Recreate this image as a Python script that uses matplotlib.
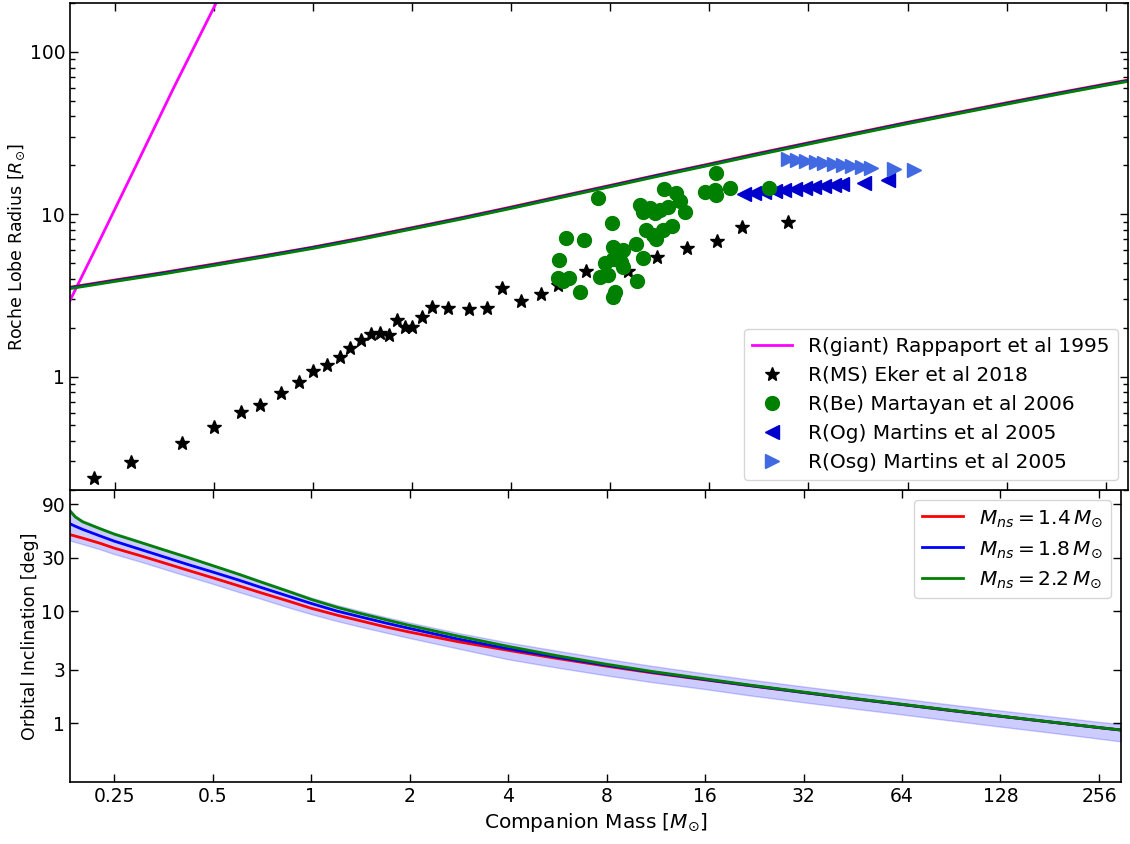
import numpy as np
import matplotlib
matplotlib.use('Agg')
import matplotlib.pyplot as plt
from matplotlib.ticker import FixedLocator, FixedFormatter, NullLocator, LogLocator, NullFormatter

# --- data ---
ms_mass = [0.217, 0.281, 0.401, 0.501, 0.604, 0.692, 0.803, 0.906, 0.999, 1.102, 1.209, 1.297,
           1.398, 1.499, 1.599, 1.706, 1.797, 1.904, 1.995, 2.151, 2.296, 2.58, 2.99, 3.375,
           3.762, 4.301, 4.922, 5.557, 6.739, 9.059, 11.104, 13.677, 16.909, 20.117, 27.69]
ms_radius = [0.237, 0.299, 0.392, 0.492, 0.608, 0.669, 0.79, 0.93, 1.08, 1.18, 1.328, 1.492,
             1.683, 1.828, 1.859, 1.794, 2.22, 2.033, 2.033, 2.343, 2.689, 2.65, 2.605, 2.65,
             3.505, 2.911, 3.246, 3.673, 4.46, 4.449, 5.44, 6.18, 6.84, 8.33, 8.98]

be_mass = [7.339, 11.615, 12.695, 12.993, 9.822, 10.535, 11.297, 11.972, 10.063, 10.912, 13.523,
           8.083, 10.294, 10.786, 11.047, 11.567, 12.348, 5.887, 6.661, 8.16, 8.75, 9.561, 10.063,
           5.586, 7.696, 8.16, 8.644, 8.75, 7.474, 7.899, 5.567, 5.751, 6.013, 9.658, 6.468,
           8.257, 8.16, 16.707, 15.524, 16.591, 16.793, 18.513, 24.241]
be_radius = [12.57, 14.28, 13.49, 12.14, 11.34, 10.87, 10.64, 11.15, 10.39, 10.16, 10.39,
             8.81, 8.01, 7.47, 7.05, 7.94, 8.48, 7.12, 6.92, 6.32, 6.03, 6.51, 5.41,
             5.24, 5.02, 5.31, 5.05, 4.76, 4.13, 4.23, 4.04, 3.85, 4.04, 3.90, 3.32,
             3.34, 3.11, 17.99, 13.61, 14.13, 13.08, 14.48, 14.54]

og_mass = [20.452, 21.94, 23.531, 25.295, 27.019, 29.03, 31.231, 33.335, 35.725, 38.209,
           40.596, 47.276, 55.948]
og_radius = [13.36, 13.55, 13.74, 13.94, 14.13, 14.34, 14.54, 14.75, 14.96, 15.18, 15.39,
             15.61, 16.29]

osg_mass = [27.69, 29.604, 31.518, 33.621, 35.725, 38.209, 40.692, 43.365, 46.417, 49.564,
            58.329, 67.084]
osg_radius = [21.85, 21.42, 21.12, 20.83, 20.65, 20.36, 20.16, 19.87, 19.67, 19.23, 18.96, 18.59]

giant_mass = [0.1824, 0.226, 0.2857, 0.3778, 0.527]
giant_radius = [2.9, 7.0, 18.6, 60.0, 231]

rl_mass = [0.183, 0.25, 0.35, 0.5, 0.7, 1, 1.4, 2, 2.8, 4, 5.6, 8, 11, 16, 22, 32, 45, 64,
           90, 128, 180, 256, 299]
rl_14 = [3.55, 3.93, 4.37, 4.93, 5.53, 6.27, 7.14, 8.26, 9.49, 11.07, 12.86, 15.05, 17.35,
         20.4, 23.5, 27.55, 31.8, 36.85, 42.2, 48.6, 55.5, 63.4, 67.0]
rl_18 = [3.52, 3.89, 4.33, 4.88, 5.48, 6.22, 7.07, 8.18, 9.4, 10.96, 12.73, 14.9, 17.2,
         20.2, 23.25, 27.3, 31.5, 36.5, 41.8, 48.1, 55.0, 62.8, 66.4]
rl_22 = [3.48, 3.85, 4.28, 4.83, 5.42, 6.15, 7.0, 8.1, 9.3, 10.85, 12.6, 14.75, 17.0,
         20.0, 23.0, 27.0, 31.2, 36.1, 41.4, 47.6, 54.4, 62.2, 65.8]

inc_mass = [0.183, 0.19, 0.2, 0.225, 0.25, 0.3, 0.35, 0.42, 0.5, 0.6, 0.7, 0.85, 1, 1.2, 1.4,
            1.7, 2, 2.8, 4, 5.6, 8, 11, 16, 22, 32, 45, 64, 90, 128, 180, 256, 299]
inc_14 = [48, 46.6, 44.7, 40.4, 36.4, 31.2, 27.2, 23.1, 19.8, 16.8, 14.6, 12.3, 10.6, 9.2,
          8.25, 7.2, 6.5, 5.35, 4.47, 3.8, 3.23, 2.82, 2.44, 2.16, 1.88, 1.66, 1.47, 1.30,
          1.155, 1.03, 0.915, 0.87]
inc_18 = [60, 57, 53.5, 47, 42, 35.5, 30.8, 26, 22.3, 18.9, 16.3, 13.6, 11.7, 10.0,
          8.95, 7.8, 7.0, 5.65, 4.62, 3.9, 3.29, 2.86, 2.46, 2.17, 1.885, 1.665, 1.472, 1.303,
          1.157, 1.031, 0.916, 0.871]
inc_22 = [78, 69, 62.5, 54.5, 48.5, 41, 35.5, 30, 25.4, 21.3, 18.2, 15.0, 12.7, 10.8,
          9.6, 8.35, 7.45, 6.0, 4.85, 4.02, 3.36, 2.9, 2.49, 2.19, 1.9, 1.675, 1.48, 1.31,
          1.16, 1.034, 0.918, 0.873]
band_hi = [81, 71, 64.5, 56, 50, 42.2, 36.5, 30.9, 26.1, 21.9, 18.8, 15.5, 13.2, 11.3,
           10.1, 8.8, 7.9, 6.4, 5.25, 4.45, 3.75, 3.25, 2.78, 2.45, 2.13, 1.88, 1.66, 1.47,
           1.30, 1.16, 1.03, 0.985]
band_lo = [42.5, 41.2, 39.5, 35.7, 32.2, 27.6, 24.0, 20.4, 17.5, 14.8, 12.9, 10.8, 9.4, 8.15,
           7.3, 6.4, 5.75, 4.65, 3.72, 3.15, 2.67, 2.33, 2.02, 1.77, 1.54, 1.36, 1.2, 1.06,
           0.935, 0.83, 0.73, 0.69]

x_ticks = [0.25, 0.5, 1, 2, 4, 8, 16, 32, 64, 128, 256]
x_labels = ['0.25', '0.5', '1', '2', '4', '8', '16', '32', '64', '128', '256']
inc_ticks = [1, 3, 10, 30, 90]

plt.rcParams['font.size'] = 13.5

W, H = 1130, 844
fig = plt.figure(figsize=(W / 100, H / 100), dpi=100)
ax2 = fig.add_axes([70 / W, 1 - 782 / H, 1051 / W, 292 / H])
ax1 = fig.add_axes([70 / W, 1 - 490 / H, 1058 / W, 487 / H], sharex=ax2)

# top panel
ax1.plot(giant_mass, giant_radius, color='magenta', lw=2, label='R(giant) Rappaport et al 1995')
ax1.plot(rl_mass, rl_14, color='red', lw=2)
ax1.plot(rl_mass, rl_18, color='blue', lw=2)
ax1.plot(rl_mass, rl_22, color='green', lw=2)
ax1.plot(ms_mass, ms_radius, '*', color='black', ms=10.5, ls='none', label='R(MS) Eker et al 2018')
ax1.plot(be_mass, be_radius, 'o', color='green', ms=10, ls='none', zorder=4,
         label='R(Be) Martayan et al 2006')
ax1.plot(og_mass, og_radius, '<', color='mediumblue', ms=10, ls='none', label='R(Og) Martins et al 2005')
ax1.plot(osg_mass, osg_radius, '>', color='royalblue', ms=10, ls='none', label='R(Osg) Martins et al 2005')

ax1.set_xscale('log', base=2)
ax1.set_yscale('log')
ax1.set_xlim(0.183, 299)
ax1.set_ylim(0.2, 200)
ax1.set_ylabel(r'Roche Lobe Radius [$R_{\odot}$]', fontsize=12.5, labelpad=2)
ax1.yaxis.set_major_locator(FixedLocator([1, 10, 100]))
ax1.yaxis.set_major_formatter(FixedFormatter(['1', '10', '100']))
ax1.yaxis.set_minor_locator(LogLocator(base=10, subs=np.arange(2, 10)))
ax1.yaxis.set_minor_formatter(NullFormatter())
ax1.tick_params(axis='x', labelbottom=False)
ax1.legend(loc='lower right', fontsize=14.5)

# bottom panel
ax2.fill_between(inc_mass, band_lo, band_hi, color='blue', alpha=0.2)
ax2.plot(inc_mass, inc_14, color='red', lw=2, label=r'$M_{ns} = 1.4\,M_{\odot}$')
ax2.plot(inc_mass, inc_18, color='blue', lw=2, label=r'$M_{ns} = 1.8\,M_{\odot}$')
ax2.plot(inc_mass, inc_22, color='green', lw=2, label=r'$M_{ns} = 2.2\,M_{\odot}$')
ax2.set_yscale('log')
ax2.set_ylim(0.3, 120)
ax2.yaxis.set_major_locator(FixedLocator(inc_ticks))
ax2.yaxis.set_major_formatter(FixedFormatter([str(t) for t in inc_ticks]))
ax2.yaxis.set_minor_locator(NullLocator())
ax2.set_ylabel('Orbital Inclination [deg]', fontsize=12.5, labelpad=2)
ax2.set_xlabel(r'Companion Mass [$M_{\odot}$]', fontsize=14.5)
ax2.legend(loc='upper right', fontsize=14.5)

ax2.xaxis.set_major_locator(FixedLocator(x_ticks))
ax2.xaxis.set_major_formatter(FixedFormatter(x_labels))
ax2.xaxis.set_minor_locator(NullLocator())

for ax in (ax1, ax2):
    ax.tick_params(which='both', direction='in', top=True, right=True)
    ax.tick_params(which='major', length=6, width=1)
    ax.tick_params(which='minor', length=3.5, width=1)
    for s in ax.spines.values():
        s.set_linewidth(1.2)

fig.align_ylabels([ax1, ax2])
plt.savefig('out.png', dpi=100)
